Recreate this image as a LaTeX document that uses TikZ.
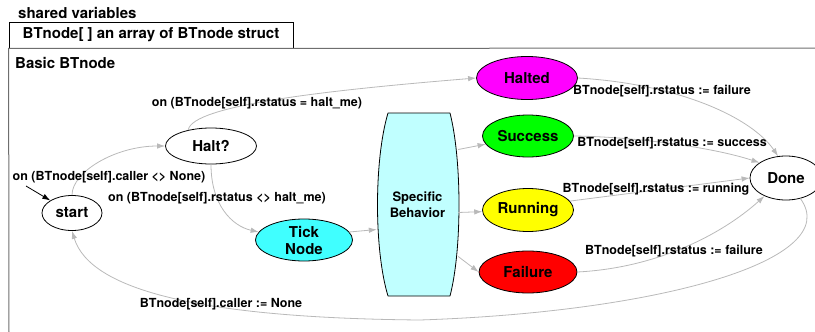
\documentclass[tikz,border=0pt]{standalone}
\usepackage{fontspec}
\setmainfont{TeX Gyre Heros}
\usetikzlibrary{arrows.meta,shapes,positioning}
\definecolor{edgegray}{RGB}{185,185,185}
\definecolor{framegray}{RGB}{110,110,110}
\definecolor{tickcyan}{RGB}{64,255,255}
\definecolor{behavecyan}{RGB}{192,255,255}
\definecolor{haltedmag}{RGB}{255,0,255}
\definecolor{succgreen}{RGB}{0,255,0}
\definecolor{runyellow}{RGB}{255,255,0}
\definecolor{failred}{RGB}{255,0,0}
\tikzset{
  basic/.style = {draw, ellipse, line width=0.8pt, inner sep=0pt, align=center,
                  font=\bfseries\fontsize{15}{17}\selectfont},
  state/.style = {basic, minimum width=91pt, minimum height=42pt},
  title/.style = {inner sep=0pt, anchor=west, font=\bfseries\fontsize{15}{17}\selectfont},
  cond/.style  = {inner sep=0pt, font=\bfseries\fontsize{12.5}{14}\selectfont},
  flow/.style  = {draw=edgegray, line width=0.8pt, -{Latex[length=8pt,width=5.5pt]}}
}

\begin{document}
\begin{tikzpicture}[x=1pt,y=-1pt]
\useasboundingbox (0,0) rectangle (815,332);
\node[title] (shared) at (18,13) {shared variables};
\node[title, draw, line width=0.8pt, anchor=center, minimum width=284pt, minimum height=26pt] (array) at (151,35) {BTnode[ ] an array of BTnode struct};
\draw[framegray, line width=1pt] (815,48) -- (array.south east) -- (array.south west) -- (9,332);
\node[title] (basic) at (15,63) {Basic BTnode};

\node[basic, minimum width=60pt, minimum height=35pt] (start) at (72,213) {start};
\node[basic, minimum width=91pt, minimum height=36pt] (halt) at (211,146) {Halt?};
\node[basic, fill=tickcyan, minimum width=97pt, minimum height=42pt] (tick) at (304,240) {Tick\\Node};
\draw[fill=behavecyan, line width=0.8pt, line join=round] (388,113) -- (450,113)
  .. controls (462,160) and (462,250) .. (450,296) -- (388,296)
  .. controls (374,250) and (374,160) .. (388,113) -- cycle;
\node[align=center, minimum width=81pt, minimum height=183pt, font=\bfseries\fontsize{13}{16}\selectfont] (spec) at (417.5,204.5) {Specific\\Behavior};
\node[state, fill=haltedmag, minimum width=101pt, minimum height=43pt] (halted) at (527,78) {Halted};
\node[state, fill=succgreen] (succ) at (528,136) {Success};
\node[state, fill=runyellow, minimum height=43pt] (run) at (528,210) {Running};
\node[state, fill=failred, minimum width=98pt] (fail) at (528,272) {Failure};
\node[basic, minimum width=72pt, minimum height=44pt] (done) at (786,178) {Done};

% transitions
\coordinate (entry) at (26,186);
\draw[line width=0.8pt, -{Latex[length=8pt,width=5.5pt]}] (entry) -- (start.150);
\draw[flow] (start.north) .. controls (72,172) and (115,146) .. (halt.west);
\draw[flow] (halt.145) .. controls (192,105) and (330,90) .. (halted.west);
\draw[flow] (halt.south) .. controls (211,205) and (232,226) .. (tick.170);
\draw[flow] (tick.10) -- ([yshift=-25pt]spec.west);
\draw[flow] ([yshift=55pt]spec.east) -- (succ);
\draw[flow] ([yshift=-8pt]spec.east) -- (run);
\draw[flow] ([yshift=-52pt]spec.east) -- (fail.west);
\draw[flow] (halted.east) .. controls (680,84) and (752,118) .. (done.110);
\draw[flow] (succ.east) .. controls (640,137) and (715,148) .. (done.150);
\draw[flow] (run.12) -- (done.west);
\draw[flow] (fail.east) .. controls (655,268) and (720,236) .. (done.220);
\draw[flow] (done.305) .. controls (845,260) and (660,312) .. (420,320)
  .. controls (200,318) and (90,290) .. (start.south);

\node[cond] (oncall) at (109,177) {on (BTnode[self].caller <> None)};
\node[cond] (onhalt) at (257,103) {on (BTnode[self].rstatus = halt\_me)};
\node[cond] (ontick) at (217,198) {on (BTnode[self].rstatus <> halt\_me)};
\node[cond] (sethalted) at (662,91) {BTnode[self].rstatus := failure};
\node[cond] (setsucc) at (672,143) {BTnode[self].rstatus := success};
\node[cond] (setrun) at (656,189) {BTnode[self].rstatus := running};
\node[cond] (setfail) at (674,251) {BTnode[self].rstatus := failure};
\node[cond] (setcall) at (221,304) {BTnode[self].caller := None};
\end{tikzpicture}
\end{document}
